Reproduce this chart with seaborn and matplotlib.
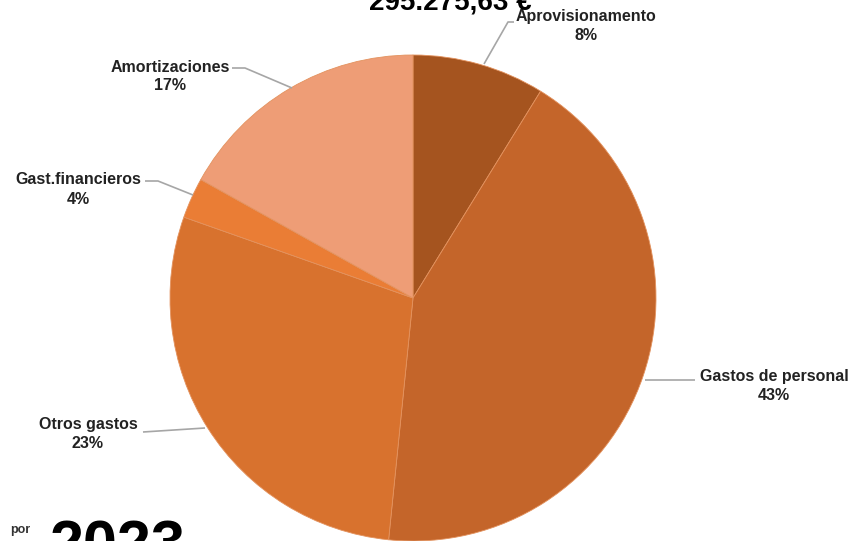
import matplotlib
matplotlib.use("Agg")
import matplotlib.pyplot as plt
import seaborn as sns

# data
categories = ["Aprovisionamento", "Gastos de personal", "Otros gastos",
              "Gast.financieros", "Amortizaciones"]
shares = [8.8, 42.8, 28.8, 2.7, 16.9]
pct_labels = ["8%", "43%", "23%", "4%", "17%"]
slice_colors = ["#A5541F", "#C4652A", "#D8722E", "#EA7D35", "#EE9D76"]
total_text = "295.275,63 €"
year_text = "2023"

sns.set_theme(style="white")
plt.rcParams["font.family"] = ["Liberation Sans", "DejaVu Sans"]

W, H = 865, 541
fig = plt.figure(figsize=(W / 100, H / 100), dpi=100)
ax = fig.add_axes([0, 0, 1, 1])

palette = sns.color_palette(slice_colors)
cx, cy, r = 413, H - 298, 243
ax.pie(shares, colors=palette, startangle=90, counterclock=False,
       center=(cx, cy), radius=r, frame=True,
       wedgeprops=dict(linewidth=0.6, edgecolor="#E3925E"))
ax.set_xlim(0, W)
ax.set_ylim(0, H)
ax.set_aspect("equal")
ax.axis("off")

# label text position (pixel coords, y from top) and leader line points
label_pos = [(586, 17), (774, 377), (88, 424), (78, 180), (170, 67)]
leaders = [
    [(484, 64), (508, 22), (514, 22)],
    [(645, 380), (695, 380)],
    [(143, 432), (205, 428)],
    [(145, 181), (158, 181), (193, 195)],
    [(232, 68), (245, 68), (292, 88)],
]

for name, pct, (lx, ly), pts in zip(categories, pct_labels, label_pos, leaders):
    xs = [p[0] for p in pts]
    ys = [H - p[1] for p in pts]
    ax.plot(xs, ys, color="#A6A6A6", lw=1.2, solid_capstyle="butt")
    ax.text(lx, H - ly, name, ha="center", va="center", fontsize=11.5,
            fontweight="bold", color="#222222")
    ax.text(lx, H - ly - 19, pct, ha="center", va="center", fontsize=11.5,
            fontweight="bold", color="#222222")

# title cut at the top edge, year cut at the bottom
ax.text(450, H - 9, total_text, ha="center", va="baseline", fontsize=20,
        fontweight="bold", color="black")
ax.text(10, H - 533, "por", ha="left", va="baseline", fontsize=9,
        fontweight="bold", color="#333333")
ax.text(50, H - 563, year_text, ha="left", va="baseline", fontsize=44,
        fontweight="bold", color="black")

fig.savefig("out.png", dpi=100)
